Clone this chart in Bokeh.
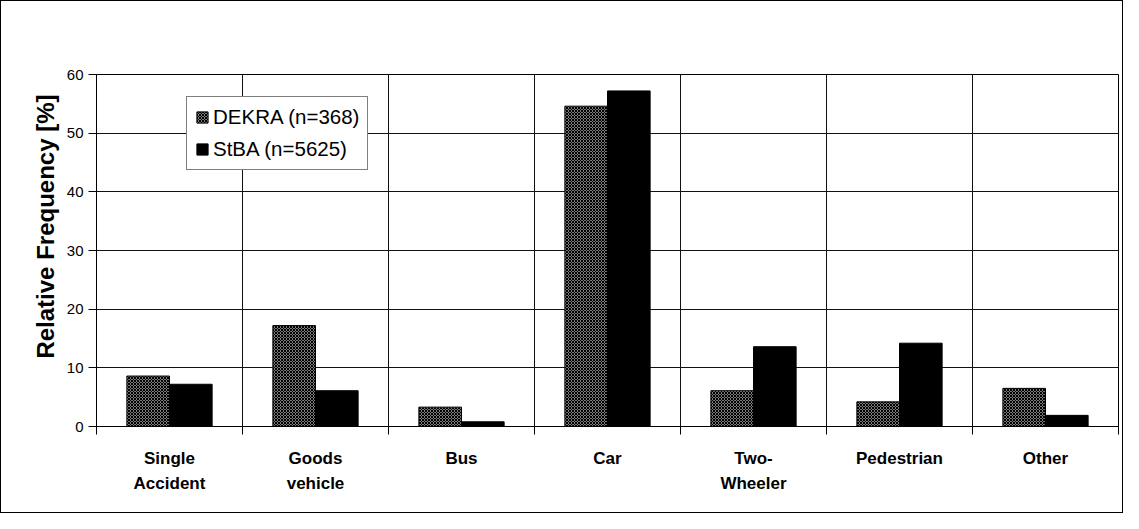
from bokeh.plotting import figure
from bokeh.models import (ColumnDataSource, Range1d, FixedTicker, CustomJSTickFormatter,
                          Legend, LegendItem, Title)
from bokeh.transform import dodge
from bokeh.embed import file_html
from bokeh.resources import INLINE

categories = ["Single\nAccident", "Goods\nvehicle", "Bus", "Car", "Two-\nWheeler", "Pedestrian", "Other"]
dekra = [8.6, 17.2, 3.3, 54.6, 6.1, 4.2, 6.5]
stba = [7.2, 6.1, 0.8, 57.2, 13.6, 14.2, 1.9]
series_names = ["DEKRA (n=368)", "StBA (n=5625)"]
y_ticks = [0, 10, 20, 30, 40, 50, 60]
y_title = "Relative Frequency [%]"

n = len(categories)
centers = [i + 0.5 for i in range(n)]
bounds = list(range(n + 1))

src = ColumnDataSource(dict(x=centers, cat=categories, dekra=dekra, stba=stba))

FONT = "Liberation Sans"

p = figure(frame_width=1022, frame_height=352,
           min_border_left=95, min_border_top=73, min_border_right=4, min_border_bottom=86,
           x_range=Range1d(0, n), y_range=Range1d(0, 60),
           output_backend="svg", toolbar_location=None)
p.styles = {"border": "1px solid black"}

bar_w = 0.292
r1 = p.vbar(x=dodge("x", -bar_w / 2, range=p.x_range), top="dekra", width=bar_w, source=src,
            fill_color="white", line_color="black", line_width=1,
            hatch_pattern="x", hatch_scale=3, hatch_weight=1.45, hatch_color="black")
r2 = p.vbar(x=dodge("x", bar_w / 2, range=p.x_range), top="stba", width=bar_w, source=src,
            fill_color="black", line_color="black", line_width=1)

# axes
xa = p.xaxis[0]
xa.ticker = FixedTicker(ticks=centers, minor_ticks=bounds)
xa.formatter = CustomJSTickFormatter(args=dict(labels=categories),
                                     code="return labels[Math.floor(tick)];")
xa.major_tick_out = 0
xa.major_tick_in = 0
xa.minor_tick_out = 8
xa.minor_tick_in = 0
xa.minor_tick_line_color = "black"
xa.axis_line_color = "black"
xa.major_label_text_font = FONT
xa.major_label_text_font_size = "17px"
xa.major_label_text_font_style = "bold"
xa.major_label_text_color = "black"
xa.major_label_text_line_height = 1.32
xa.major_label_standoff = 14

ya = p.yaxis[0]
ya.ticker = FixedTicker(ticks=y_ticks)
ya.minor_tick_line_color = None
ya.major_tick_out = 8
ya.major_tick_in = 0
ya.major_tick_line_color = "black"
ya.axis_line_color = "black"
ya.major_label_text_font = FONT
ya.major_label_text_font_size = "15px"
ya.major_label_text_color = "black"
ya.major_label_standoff = 5

ytitle = Title(text=y_title, align="right", offset=20,
               text_font=FONT, text_font_size="24px", text_font_style="bold",
               text_color="black", standoff=9)
p.add_layout(ytitle, "left")

# grids
p.xgrid.ticker = FixedTicker(ticks=bounds)
p.xgrid.grid_line_color = "#111111"
p.xgrid.grid_line_width = 1
p.ygrid.ticker = FixedTicker(ticks=y_ticks)
p.ygrid.grid_line_color = "#111111"
p.ygrid.grid_line_width = 1

p.outline_line_color = "black"
p.outline_line_alpha = 1
p.background_fill_color = "white"
p.border_fill_color = "white"

legend = Legend(items=[LegendItem(label=series_names[0], renderers=[r1]),
                       LegendItem(label=series_names[1], renderers=[r2])],
                location=(90, 256), orientation="vertical")
legend.label_text_font = FONT
legend.label_text_font_size = "20.5px"
legend.label_text_color = "black"
legend.glyph_width = 14
legend.glyph_height = 14
legend.label_height = 21
legend.label_standoff = 4
legend.spacing = 8
legend.padding = 8
legend.margin = 0
legend.border_line_color = "black"
legend.border_line_width = 1
legend.background_fill_alpha = 1
p.add_layout(legend, "center")

open("out.html", "w").write(file_html(p, INLINE))
